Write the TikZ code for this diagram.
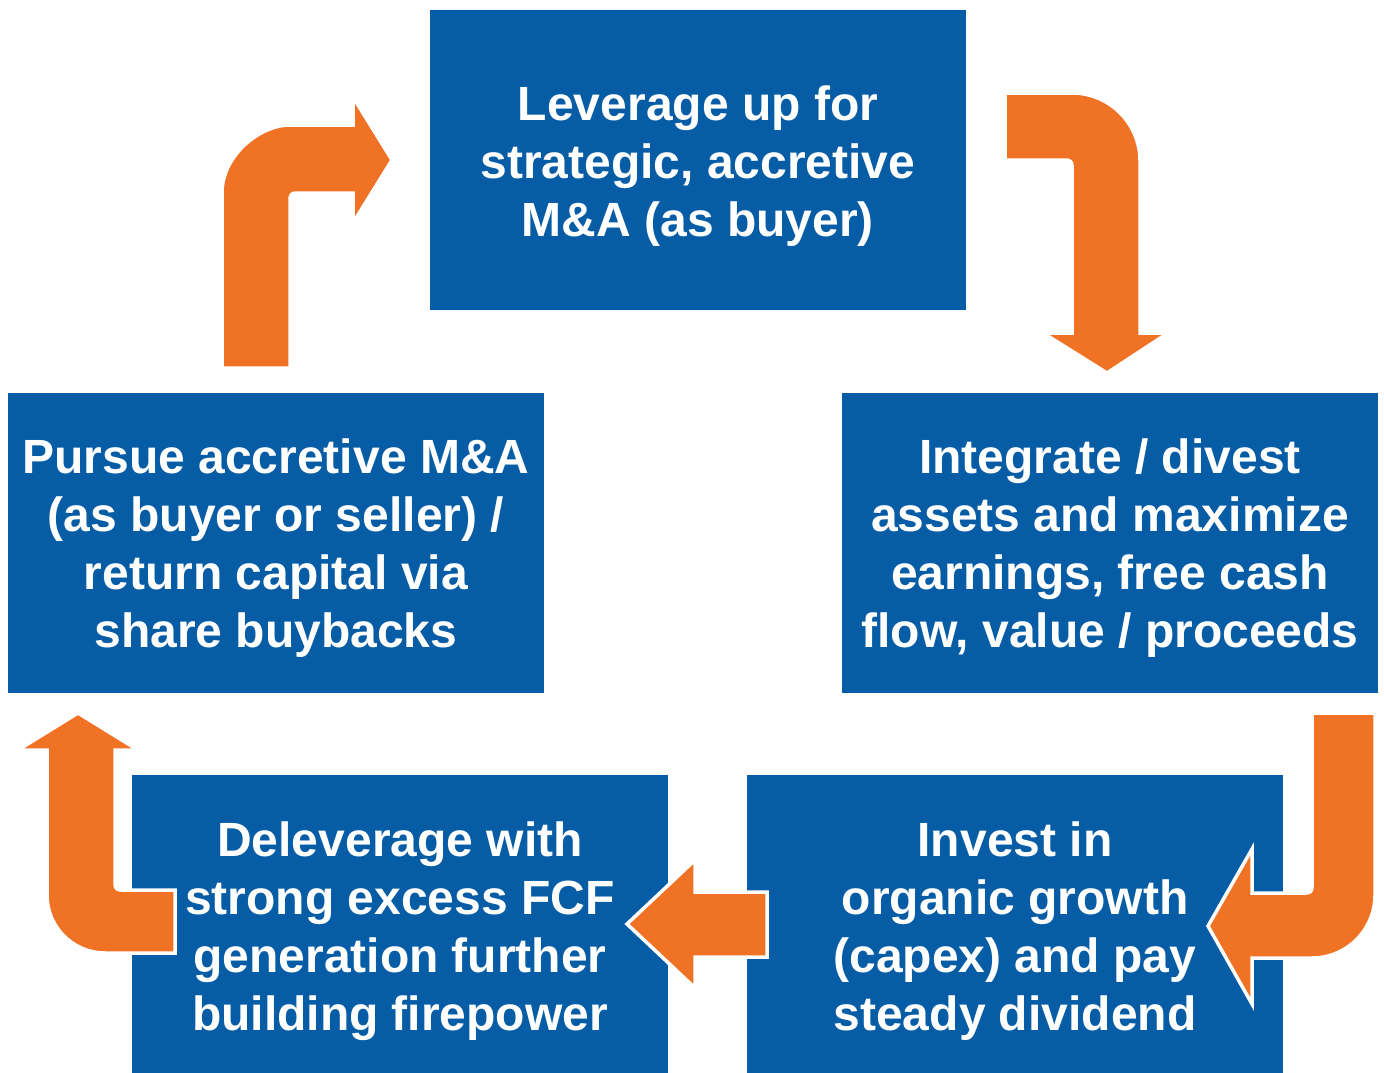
\documentclass[tikz,border=0pt]{standalone}
\usepackage{fontspec}
\setmainfont{Liberation Sans}
\definecolor{boxblue}{RGB}{6,93,166}
\definecolor{floworange}{RGB}{240,114,36}

\begin{document}
\begin{tikzpicture}[x=1pt,y=-1pt,
  stage/.style={fill=boxblue, draw=none, minimum width=536pt, minimum height=300pt, inner sep=0pt},
  caption/.style={text=white, align=center, inner sep=0pt,
    font=\bfseries\fontsize{48}{58}\selectfont},
  flow/.style={fill=floworange, draw=white, line width=3.5pt, line join=miter}]
\useasboundingbox (0,0) rectangle (1384,1073);
\clip (0,0) rectangle (1384,1073);

% stages of the cycle
\node[stage] (lev) at (698,160) {};
\node[stage] (integ) at (1110,542.5) {};
\node[stage] (invest) at (1015,925) {};
\node[stage] (delev) at (400,925) {};
\node[stage] (pursue) at (276,542.5) {};

\node[caption] (levtxt) at ([yshift=-6pt]lev.center) {Leverage up for\\strategic, accretive\\M\&A (as buyer)};
\node[caption] (integtxt) at ([yshift=-6pt]integ.center) {Integrate / divest\\assets and maximize\\earnings, free cash\\flow, value / proceeds};
\node[caption] (investtxt) at ([yshift=-6pt]invest.center) {Invest in\\organic growth\\(capex) and pay\\steady dividend};
\node[caption] (delevtxt) at ([yshift=-6pt]delev.center) {Deleverage with\\strong excess FCF\\generation further\\building firepower};
\node[caption] (pursuetxt) at ([yshift=-6pt]pursue.center) {Pursue accretive M\&A\\(as buyer or seller) /\\return capital via\\share buybacks};

% leverage -> integrate
\fill[flow] (1005,93) -- (1072,93) .. controls (1109.6,93) and (1140,123.4) .. (1140,161)
  -- (1140,333) -- (1168,333) -- (1107,373) -- (1043,333) -- (1072,333) -- (1072,166)
  .. controls (1072,162) and (1070,160) .. (1066,160) -- (1005,160) -- cycle;

% integrate -> invest
\fill[flow] (1312,713) -- (1375,713) -- (1375,895) .. controls (1375,929.8) and (1346.8,958) .. (1312,958)
  -- (1252,958) -- (1252,1004) -- (1208,926) -- (1252,849) -- (1252,893) -- (1306,893)
  .. controls (1310,893) and (1312,891) .. (1312,887) -- cycle;

% invest -> deleverage
\fill[flow] (767,892) -- (695,892) -- (695,860) -- (627,924) -- (695,988) -- (695,957) -- (767,957) -- cycle;

% deleverage -> pursue
\fill[flow] (175,890) -- (121,890) .. controls (117,890) and (115,888) .. (115,884)
  -- (115,750) -- (138,750) -- (78,713) -- (18,750) -- (47,750) -- (47,895)
  .. controls (47,927) and (73,953) .. (105,953) -- (175,953) -- cycle;

% pursue -> leverage
\fill[flow] (222,368) -- (222,193) .. controls (222,155.4) and (259.6,125) .. (290,125)
  -- (353,125) -- (353,97) -- (392,160) -- (353,223) -- (353,193) -- (296,193)
  .. controls (292,193) and (290,195) .. (290,199) -- (290,368) -- cycle;
\end{tikzpicture}
\end{document}
